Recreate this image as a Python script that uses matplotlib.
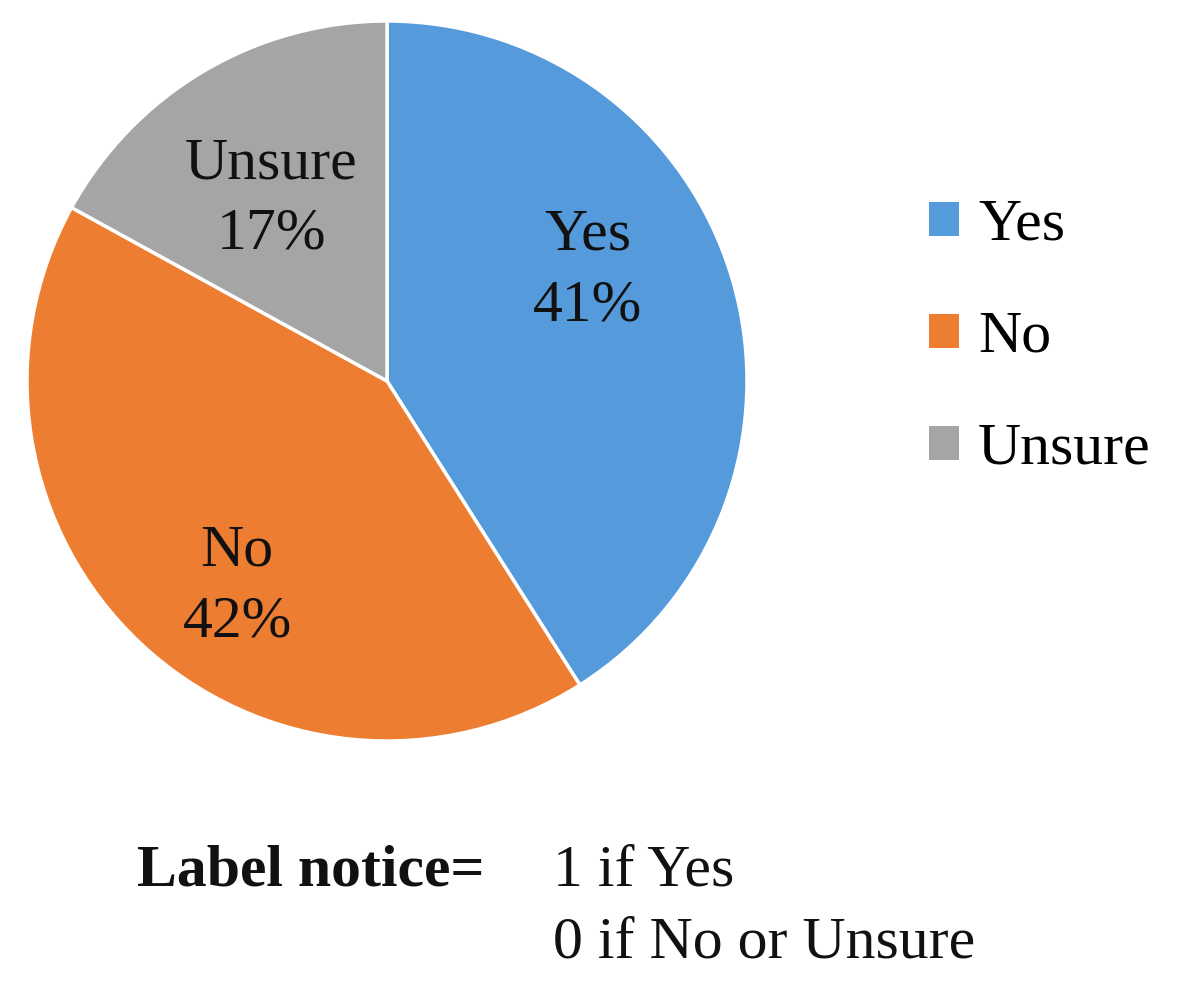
import matplotlib
matplotlib.use("Agg")
import matplotlib.pyplot as plt
from matplotlib.patches import Patch

categories = ["Yes", "No", "Unsure"]
shares = [41, 42, 17]
colors = ["#559BDB", "#ED7D31", "#A5A5A5"]

# label anchor positions (axes fraction) for in-slice labels
label_pos = [(0.779, 0.653), (0.292, 0.214), (0.339, 0.752)]

plt.rcParams['font.family'] = ['Liberation Serif', 'DejaVu Serif']
FS = 43

fig = plt.figure(figsize=(11.84, 9.94), dpi=100)
ax = fig.add_axes([27/1184, (994-741)/994, 720/1184, 720/994])
wedges, _ = ax.pie(shares, colors=colors, startangle=90, counterclock=False,
                   wedgeprops=dict(edgecolor="white", linewidth=2.5))
ax.set_xlim(-1, 1)
ax.set_ylim(-1, 1)
ax.set_aspect("equal")

for cat, val, (x, y) in zip(categories, shares, label_pos):
    ax.text(x, y, f"{cat}\n{val}%", transform=ax.transAxes, ha="center", va="center",
            fontsize=FS, linespacing=1.4, color="#111111")

handles = [Patch(facecolor=c, edgecolor="none") for c in colors]
leg = fig.legend(handles, categories, loc="upper left", bbox_to_anchor=(929/1184, 1-199/994),
                 frameon=False, fontsize=FS, handlelength=0.5, handleheight=0.5,
                 handletextpad=0.32, labelspacing=0.97, borderaxespad=0, borderpad=0)

fig.text(137/1184, 1-885/994, "Label notice=", fontsize=FS, fontweight="bold",
         ha="left", va="baseline", color="#111111")
fig.text(553/1184, 1-885/994, "1 if Yes", fontsize=FS, ha="left", va="baseline", color="#111111")
fig.text(553/1184, 1-958/994, "0 if No or Unsure", fontsize=FS, ha="left", va="baseline", color="#111111")

fig.savefig("out.png", dpi=100, facecolor="white")
